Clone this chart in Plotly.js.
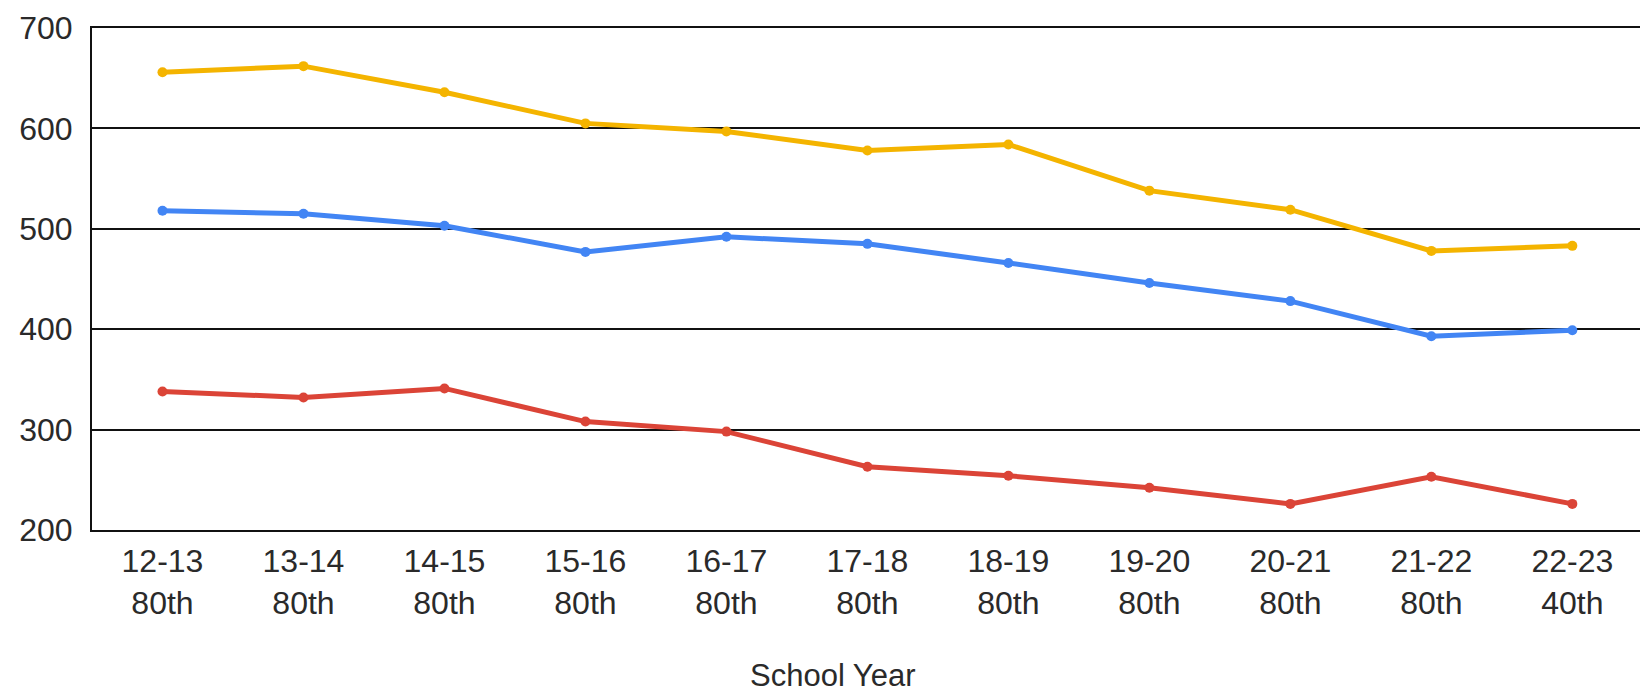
<!DOCTYPE html>
<html>
<head>
<meta charset="utf-8">
<script src="https://cdn.plot.ly/plotly-3.0.1.min.js"></script>
<style>html,body{margin:0;padding:0;background:#fff;}#chart{width:1640px;height:694px;}</style>
</head>
<body>
<div id="chart"></div>
<script>
const years = ["12-13","13-14","14-15","15-16","16-17","17-18","18-19","19-20","20-21","21-22","22-23"];
const percentiles = ["80th","80th","80th","80th","80th","80th","80th","80th","80th","80th","40th"];
const yellowValues = [656, 662, 636, 605, 597, 578, 584, 538, 519, 478, 483];
const blueValues = [518, 515, 503, 477, 492, 485, 466, 446, 428, 393, 399];
const redValues = [338, 332, 341, 308, 298, 263, 254, 242, 226, 253, 226];
const yTicks = [200, 300, 400, 500, 600, 700];
const xTitle = "School Year";

const cats = years.map((y, i) => y + "<br>" + percentiles[i]);
const idx = years.map((_, i) => i);

function series(vals, color) {
  return {
    x: idx, y: vals, type: "scatter", mode: "lines+markers",
    line: {color: color, width: 5},
    marker: {color: color, size: 10},
    hoverinfo: "skip", showlegend: false
  };
}

const data = [
  series(yellowValues, "#F4B400"),
  series(blueValues, "#4285F4"),
  series(redValues, "#DB4437")
];

const tickFont = {family: "Liberation Sans, Arial, sans-serif", color: "#2a2a2a", size: 32};
const titleFont = {family: "Liberation Sans, Arial, sans-serif", color: "#2a2a2a", size: 31};

const layout = {
  width: 1640, height: 694,
  margin: {l: 92, r: 0, t: 28, b: 164, pad: 0},
  paper_bgcolor: "#fff", plot_bgcolor: "#fff",
  font: tickFont,
  xaxis: {
    tickmode: "array", tickvals: idx, ticktext: cats,
    range: [-0.5, 10.48], showgrid: false, zeroline: false,
    showline: true, mirror: true, linecolor: "#111", linewidth: 2,
    ticks: "", tickfont: tickFont, ticklabelstandoff: 2, fixedrange: true
  },
  yaxis: {
    range: [200, 700], tickmode: "array", tickvals: yTicks,
    showgrid: true, gridcolor: "#111", gridwidth: 2,
    zeroline: false, showline: true, linecolor: "#111", linewidth: 2,
    ticks: "", tickfont: tickFont, ticklabelstandoff: 11, fixedrange: true
  },
  annotations: [{
    text: xTitle, xref: "paper", yref: "paper",
    x: (832 - 92) / 1548, y: -(675 - 530) / 502, xanchor: "center", yanchor: "middle",
    showarrow: false, font: titleFont
  }]
};

Plotly.newPlot("chart", data, layout, {staticPlot: true, displayModeBar: false});
</script>
</body>
</html>
